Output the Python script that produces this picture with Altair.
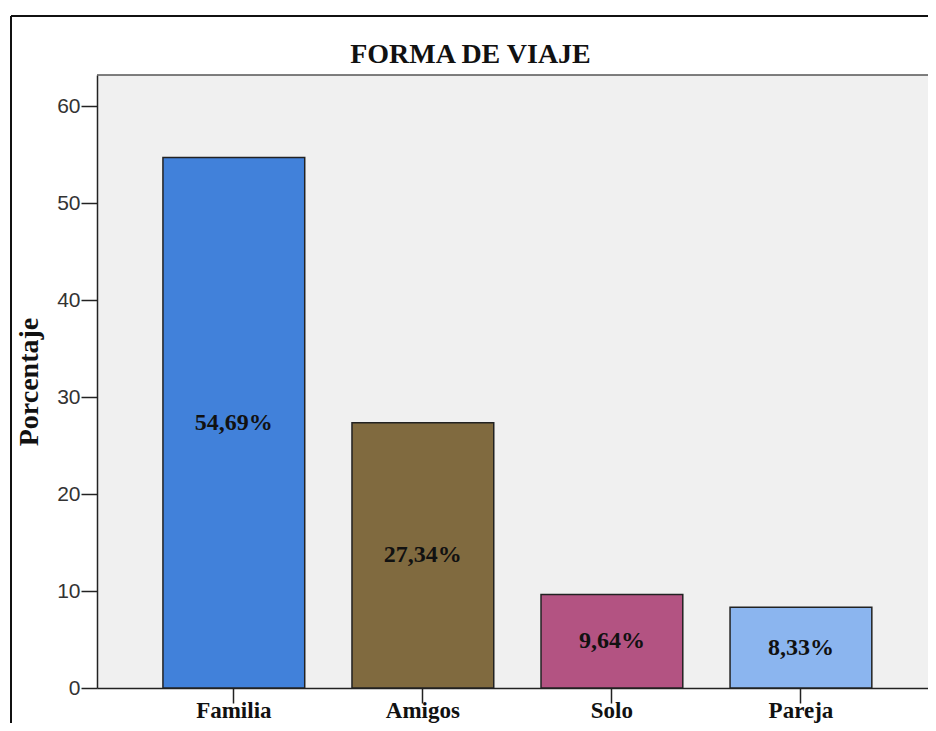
import altair as alt
import pandas as pd

categories = ["Familia", "Amigos", "Solo", "Pareja"]
values = [54.69, 27.34, 9.64, 8.33]
labels = ["54,69%", "27,34%", "9,64%", "8,33%"]
colors = ["#4181DA", "#806A3F", "#B35382", "#8BB5EF"]
y_ticks = [0, 10, 20, 30, 40, 50, 60]
chart_title = "FORMA DE VIAJE"

df = pd.DataFrame({"cat": categories, "val": values, "lab": labels})

W, H = 831, 613
SERIF = "Liberation Serif"
SANS = "Liberation Sans"

x_enc = alt.X(
    "cat:N",
    sort=categories,
    title=None,
    scale=alt.Scale(paddingInner=0.25, paddingOuter=0.323, align=0.54),
    axis=alt.Axis(
        labelAngle=0, labelFont=SERIF, labelFontSize=23, labelFontWeight="bold",
        labelColor="#111", tickSize=15, tickColor="#222", tickWidth=1.5,
        domainColor="#222", domainWidth=1.5, labelPadding=-4,
    ),
)

bars = alt.Chart(df).mark_bar(stroke="#222", strokeWidth=1.5).encode(
    x=x_enc,
    y=alt.Y(
        "val:Q",
        scale=alt.Scale(domain=[0, 63.2], nice=False),
        axis=alt.Axis(
            values=y_ticks, grid=False, title="Porcentaje",
            titleFont=SERIF, titleFontSize=28, titleFontWeight="bold", titleColor="#111",
            titleAngle=270, titleX=-60, titleY=H / 2, titleBaseline="alphabetic",
            labelFont=SANS, labelFontSize=21, labelColor="#333", labelPadding=1,
            tickSize=16, tickColor="#222", tickWidth=1.5,
            domainColor="#222", domainWidth=1.5,
        ),
    ),
    color=alt.Color("cat:N", scale=alt.Scale(domain=categories, range=colors), legend=None),
)

text = alt.Chart(df).transform_calculate(mid="datum.val / 2").mark_text(
    font=SERIF, fontSize=24, fontWeight="bold", color="#111", baseline="middle"
).encode(
    x=alt.X("cat:N", sort=categories),
    y=alt.Y("mid:Q"),
    text="lab:N",
)

frame_data = alt.Data(values=[{"t": chart_title}])
title_mark = alt.Chart(frame_data).mark_text(
    font=SERIF, fontSize=28, fontWeight="bold", color="#111",
    baseline="alphabetic", align="center",
).encode(x=alt.value(W / 2 - 42), y=alt.value(-12), text="t:N")

top_line = alt.Chart(frame_data).mark_rule(color="#555", strokeWidth=1.5).encode(
    x=alt.value(0), x2=alt.value(W), y=alt.value(0)
)
outer_left = alt.Chart(frame_data).mark_rule(color="#111", strokeWidth=2).encode(
    x=alt.value(-86), y=alt.value(-59), y2=alt.value(H + 80)
)
outer_top = alt.Chart(frame_data).mark_rule(color="#111", strokeWidth=2).encode(
    x=alt.value(-86), x2=alt.value(W + 40), y=alt.value(-59)
)

chart = alt.layer(bars, text, top_line, outer_left, outer_top, title_mark).properties(
    width=W,
    height=H,
    autosize=alt.AutoSizeParams(type="none"),
    padding={"left": 89, "top": 67, "right": 0, "bottom": 35},
    background="white",
).configure_view(
    fill="#F0F0F0", stroke=None
)

chart.save("out.html", embed_options={"renderer": "svg", "actions": False})
